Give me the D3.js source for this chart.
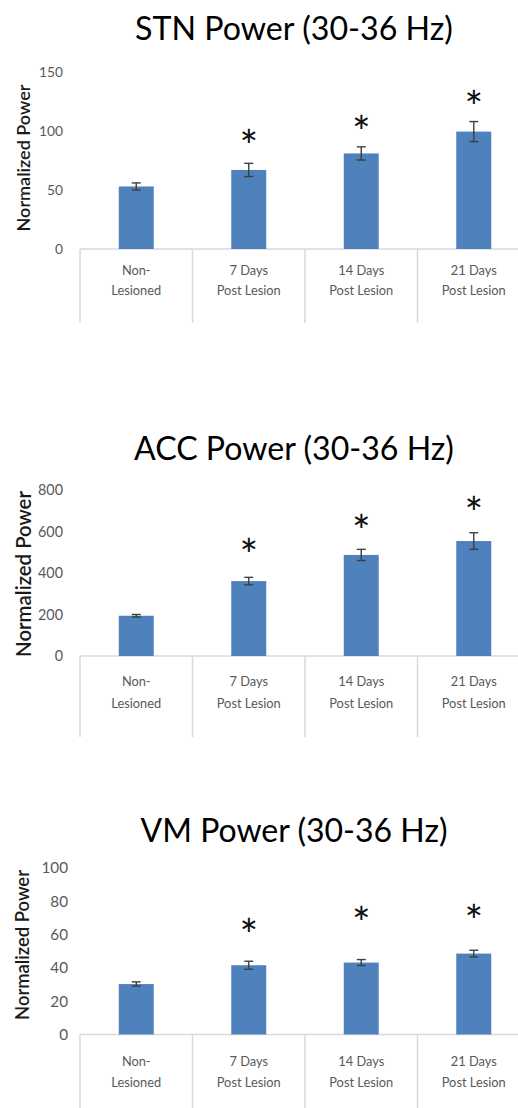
<!DOCTYPE html>
<html>
<head>
<meta charset="utf-8">
<script src="https://cdn.jsdelivr.net/npm/d3@7"></script>
<style>
  html, body { margin: 0; padding: 0; background: #fff; }
  svg { display: block; }
  text { font-family: Lato, "Open Sans", sans-serif; }
</style>
</head>
<body>
<svg id="fig" width="518" height="1108"></svg>
<script>
// Groups shared by all three panels
const categories = [["Non-", "Lesioned"], ["7 Days", "Post Lesion"], ["14 Days", "Post Lesion"], ["21 Days", "Post Lesion"]];

// STN gamma power (mean, SEM, significance marker level)
const stnMeans = [53, 67, 81, 99.5];
const stnErrors = [3, 5.6, 5.6, 8.5];
const stnStars = [null, 95, 106.5, 127.5];
const stnTicks = [0, 50, 100, 150];

// ACC gamma power
const accMeans = [194, 361, 487, 554];
const accErrors = [6, 18, 27, 40];
const accStars = [null, 527, 644, 733];
const accTicks = [0, 200, 400, 600, 800];

// VM gamma power
const vmMeans = [30.3, 41.6, 43.2, 48.6];
const vmErrors = [1.3, 2.4, 1.8, 2];
const vmStars = [null, 65.2, 72.2, 73.2];
const vmTicks = [0, 20, 40, 60, 80, 100];

const panels = [
  { title: "STN Power (30-36 Hz)", means: stnMeans, errors: stnErrors, stars: stnStars, ticks: stnTicks,
    y0: 249, yTop: 72, titleY: 40, titleW: 318, catY: [275, 295], divBottom: 323,
    tickRight: 63, tickW: 24, yLabelY: 158, yLabelW: 147, yLabelX: 23 },
  { title: "ACC Power (30-36 Hz)", means: accMeans, errors: accErrors, stars: accStars, ticks: accTicks,
    y0: 656, yTop: 490, titleY: 460, titleW: 320, catY: [686, 708], divBottom: 737,
    tickRight: 63, tickW: 25, yLabelY: 574, yLabelW: 166, yLabelX: 23 },
  { title: "VM Power (30-36 Hz)", means: vmMeans, errors: vmErrors, stars: vmStars, ticks: vmTicks,
    y0: 1034.5, yTop: 868, titleY: 842, titleW: 307, catY: [1066, 1087], divBottom: 1108,
    tickRight: 68, tickW: 26.5, yLabelY: 945, yLabelW: 150, yLabelX: 22 }
];

const svg = d3.select("#fig");

// scale a text node's font size so its rendered width equals the target width
function fitWidth(sel, target, base) {
  sel.attr("font-size", base);
  const w = sel.node().getComputedTextLength();
  const size = base * target / w;
  sel.attr("font-size", size);
  return size;
}

panels.forEach(p => {
  const g = svg.append("g");
  const keys = categories.map(c => c.join(" "));

  const xDiv = d3.scaleBand().domain(keys).range([80, 530]).padding(0);
  const xBar = d3.scaleBand().domain(keys).range([80, 530]).paddingInner(0.689).paddingOuter(0.3445);
  const yMax = p.ticks[p.ticks.length - 1];
  const y = d3.scaleLinear().domain([0, yMax]).range([p.y0, p.yTop]);

  // title
  const t = g.append("text")
    .attr("x", 294).attr("y", p.titleY)
    .attr("text-anchor", "middle").attr("fill", "#000")
    .text(p.title);
  fitWidth(t, p.titleW, 32);

  // y axis label
  const yl = g.append("text")
    .attr("transform", `translate(${p.yLabelX},${p.yLabelY}) rotate(-90)`)
    .attr("text-anchor", "middle").attr("dominant-baseline", "central")
    .attr("fill", "#1a1a1a").attr("font-weight", 600)
    .text("Normalized Power");
  fitWidth(yl, p.yLabelW, 13);

  // y axis tick labels
  const yAxis = g.append("g")
    .attr("transform", `translate(${p.tickRight},0)`)
    .call(d3.axisLeft(y).tickValues(p.ticks).tickSize(0).tickPadding(0));
  yAxis.select(".domain").remove();
  const widest = yAxis.selectAll(".tick text").filter(d => d === yMax);
  const tickSize = fitWidth(widest, p.tickW, 13);
  yAxis.selectAll(".tick text")
    .attr("font-size", tickSize)
    .attr("font-family", "Lato, 'Open Sans', sans-serif")
    .attr("fill", "#595959");

  // category axis: baseline and divider lines
  g.append("line")
    .attr("x1", xDiv.range()[0]).attr("x2", xDiv.range()[1])
    .attr("y1", y(0)).attr("y2", y(0))
    .attr("stroke", "#d9d9d9").attr("stroke-width", 1.5);
  const bounds = keys.map(k => xDiv(k)).concat([xDiv.range()[1]]);
  g.selectAll("line.div").data(bounds).join("line")
    .attr("class", "div")
    .attr("x1", d => d).attr("x2", d => d)
    .attr("y1", y(0)).attr("y2", p.divBottom)
    .attr("stroke", "#d9d9d9").attr("stroke-width", 1.5);

  // category labels (two lines)
  const catG = g.selectAll("g.cat").data(categories).join("g")
    .attr("class", "cat")
    .attr("transform", (c, i) => `translate(${xDiv(keys[i]) + xDiv.bandwidth() / 2},0)`);
  [0, 1].forEach(line => {
    catG.append("text")
      .attr("y", p.catY[line])
      .attr("text-anchor", "middle").attr("fill", "#595959")
      .text(c => c[line]);
  });
  const probe = catG.filter((c, i) => i === 1).selectAll("text").filter((d, j) => j === 1);
  const catSize = fitWidth(probe, 64, 12);
  catG.selectAll("text").attr("font-size", catSize);

  // bars
  g.selectAll("rect.bar").data(p.means).join("rect")
    .attr("class", "bar")
    .attr("x", (d, i) => xBar(keys[i]))
    .attr("width", xBar.bandwidth())
    .attr("y", d => y(d))
    .attr("height", d => y(0) - y(d))
    .attr("fill", "#4f81bd");

  // error bars
  const cap = 4.5;
  const eb = g.selectAll("g.err").data(p.means).join("g")
    .attr("class", "err")
    .attr("stroke", "#3f3f3f").attr("stroke-width", 1.4);
  eb.each(function (d, i) {
    const cx = xBar(keys[i]) + xBar.bandwidth() / 2;
    const hi = y(d + p.errors[i]), lo = y(d - p.errors[i]);
    const s = d3.select(this);
    s.append("line").attr("x1", cx).attr("x2", cx).attr("y1", hi).attr("y2", lo);
    s.append("line").attr("x1", cx - cap).attr("x2", cx + cap).attr("y1", hi).attr("y2", hi);
    s.append("line").attr("x1", cx - cap).attr("x2", cx + cap).attr("y1", lo).attr("y2", lo);
  });

  // significance markers, centred on their level
  const starSize = 44;
  g.selectAll("text.star").data(p.stars.map((v, i) => ({ v, i })).filter(d => d.v !== null)).join("text")
    .attr("class", "star")
    .attr("x", d => xBar(keys[d.i]) + xBar.bandwidth() / 2)
    .attr("y", d => y(d.v) + starSize * 0.56)
    .attr("text-anchor", "middle")
    .attr("font-size", starSize).attr("fill", "#111")
    .text("*");
});
</script>
</body>
</html>
